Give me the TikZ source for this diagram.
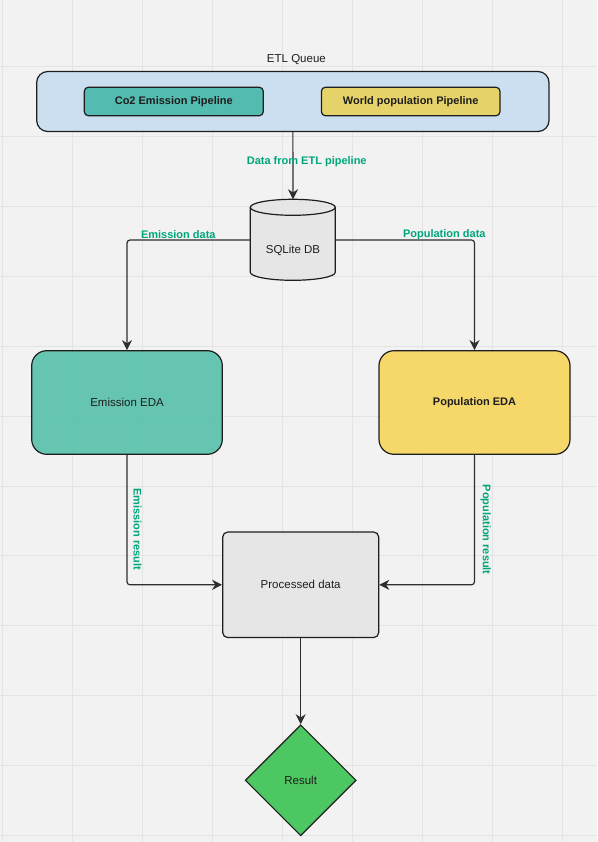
\documentclass[tikz,border=0pt]{standalone}
\usepackage{fontspec}
\setmainfont{Liberation Sans}
\usetikzlibrary{arrows.meta,shapes.geometric}

\definecolor{canvasbg}{HTML}{F2F2F2}
\definecolor{gridline}{HTML}{E4E4E4}
\definecolor{inkline}{HTML}{1E1E1E}
\definecolor{edgeline}{HTML}{2E2E2E}
\definecolor{queuefill}{HTML}{C8DEF1}
\definecolor{tealfill}{HTML}{48B8A9}
\definecolor{sandfill}{HTML}{E8D15B}
\definecolor{edafill}{HTML}{56C1AA}
\definecolor{popfill}{HTML}{F7D55C}
\definecolor{greyfill}{HTML}{E5E5E5}
\definecolor{resultfill}{HTML}{3CC352}
\definecolor{labelgreen}{HTML}{00A67A}

\tikzset{
  regtext/.style={font=\fontsize{11.5}{13}\selectfont, text=inkline},
  boldtext/.style={font=\fontsize{11}{13}\selectfont\bfseries, text=inkline},
  shapebox/.style={draw=inkline, line width=1.2pt, inner sep=0pt, fill opacity=0.9, text opacity=1},
  edge/.style={draw=edgeline, line width=1.2pt, rounded corners=3pt,
    -{Stealth[length=10pt,width=10pt,inset=3.2pt]}},
  edgelabel/.style={font=\fontsize{11}{13}\selectfont\bfseries, text=labelgreen, inner sep=0pt},
}

\begin{document}
\begin{tikzpicture}[x=1pt,y=-1pt]
  % canvas and background grid
  \fill[canvasbg] (0,0) rectangle (597,842);
  \useasboundingbox (0,0) rectangle (597,842);
  \foreach \gx in {2.7,72.7,...,563} \draw[gridline, line width=0.9pt] (\gx,0) -- (\gx,842);
  \foreach \gy in {66.6,136.5,...,840} \draw[gridline, line width=0.9pt] (0,\gy) -- (597,\gy);

  % ETL queue container and its pipelines
  \node[regtext, inner sep=0pt] (etltitle) at (296.4,59.5) {ETL Queue};
  \node[shapebox, fill=queuefill, rounded corners=11pt,
        minimum width=512.3pt, minimum height=60pt] (etl) at (292.85,101.5) {};
  \node[shapebox, fill=tealfill, rounded corners=4pt, boldtext,
        minimum width=179pt, minimum height=28.5pt] (co2) at (173.8,101.5) {Co2 Emission Pipeline};
  \node[shapebox, fill=sandfill, rounded corners=4pt, boldtext,
        minimum width=178.6pt, minimum height=28.5pt] (wpop) at (410.7,101.5) {World population Pipeline};

  % database cylinder
  \node[inner sep=0pt, minimum width=85pt, minimum height=81pt] (db) at (293,240) {};
  \draw[draw=inkline, line width=1.2pt, fill=greyfill, fill opacity=0.9]
    (db.north west) ++(0,8) -- ++(0,65)
    arc[start angle=180, end angle=360, x radius=42.5pt, y radius=8pt]
    -- ++(0,-65)
    arc[start angle=0, end angle=180, x radius=42.5pt, y radius=8pt] -- cycle;
  \draw[draw=inkline, line width=1.2pt]
    (db.north west) ++(0,8) arc[start angle=180, end angle=360, x radius=42.5pt, y radius=8pt];
  \node[regtext, inner sep=0pt] at (293,250) {SQLite DB};

  % exploratory analysis blocks
  \node[shapebox, fill=edafill, rounded corners=15pt, regtext,
        minimum width=190.6pt, minimum height=103.6pt] (emi) at (127,402.5) {Emission EDA};
  \node[shapebox, fill=popfill, rounded corners=15pt, boldtext,
        minimum width=191pt, minimum height=103.6pt] (popeda) at (474.5,402.5) {Population EDA};

  % merged output and final result
  \node[shapebox, fill=greyfill, rounded corners=5pt, regtext,
        minimum width=156pt, minimum height=105.5pt] (proc) at (300.7,584.8) {Processed data};
  \node[shapebox, diamond, fill=resultfill, regtext, aspect=1,
        minimum width=111pt, minimum height=111pt] (res) at (300.7,780.3) {Result};

  % connectors
  \draw[edge] (etl.south) -- (db.north);
  \draw[edge] (db.west) -| (emi.north);
  \draw[edge] (db.east) -| (popeda.north);
  \draw[edge] (emi.south) |- (proc.west);
  \draw[edge] (popeda.south) |- (proc.east);
  \draw[edge] (proc.south) -- (res.north);

  % connector labels
  \node[edgelabel] (lbletl) at (306.7,162) {Data from ETL pipeline};
  \node[edgelabel] (lblemi) at (178.3,234.3) {Emission data};
  \node[edgelabel] (lblpop) at (444.3,234.3) {Population data};
  \node[edgelabel, rotate=-90] (lblemires) at (137.5,529) {Emission result};
  \node[edgelabel, rotate=-90] (lblpopres) at (485.7,529.7) {Population result};
\end{tikzpicture}
\end{document}
